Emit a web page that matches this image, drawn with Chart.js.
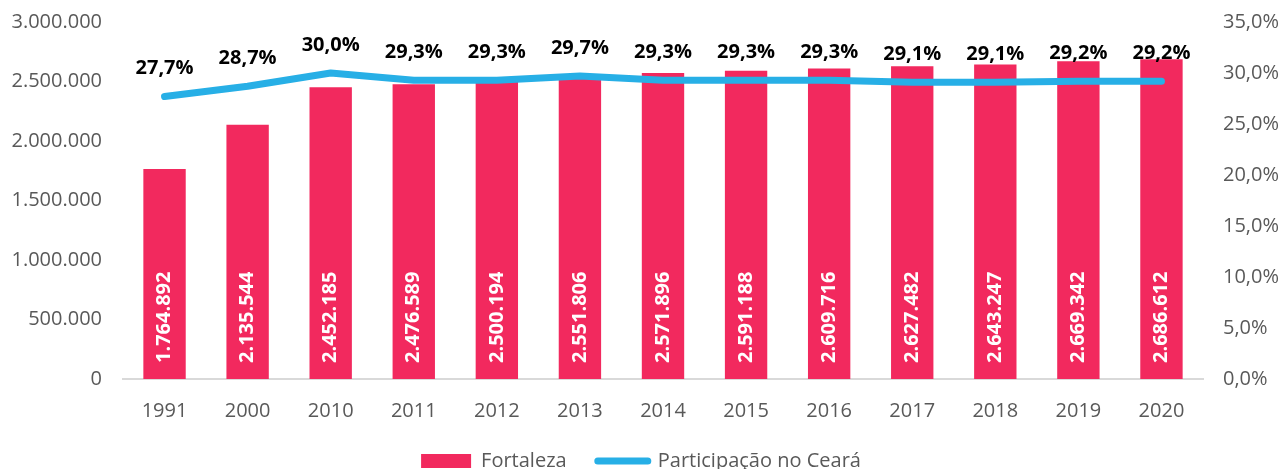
<!DOCTYPE html>
<html>
<head>
<meta charset="utf-8">
<script src="https://cdn.jsdelivr.net/npm/chart.js@4.4.1/dist/chart.umd.min.js"></script>
<style>
  html, body { margin: 0; padding: 0; background: #fff; }
  #wrap { width: 1282px; height: 469px; }
</style>
</head>
<body>
<div id="wrap"><canvas id="myChart"></canvas></div>
<script>
const anos = ["1991", "2000", "2010", "2011", "2012", "2013", "2014", "2015", "2016", "2017", "2018", "2019", "2020"];
const populacao = [1764892, 2135544, 2452185, 2476589, 2500194, 2551806, 2571896, 2591188, 2609716, 2627482, 2643247, 2669342, 2686612];
const participacao = [27.7, 28.7, 30.0, 29.3, 29.3, 29.7, 29.3, 29.3, 29.3, 29.1, 29.1, 29.2, 29.2];

const fonte = "'Open Sans', sans-serif";
const cinza = "#595959";

// número com ponto de milhar
function milhar(v) {
  return String(Math.round(v)).replace(/\B(?=(\d{3})+(?!\d))/g, ".");
}
function pct(v) {
  return v.toFixed(1).replace(".", ",") + "%";
}

// rótulos de dados (barras na vertical, percentuais acima da linha)
const rotulos = {
  id: "rotulos",
  afterDatasetsDraw(chart) {
    const ctx = chart.ctx;
    const pontos = chart.getDatasetMeta(0).data;
    const barras = chart.getDatasetMeta(1).data;
    ctx.save();
    ctx.fillStyle = "#ffffff";
    ctx.font = "bold 20px " + fonte;
    ctx.textAlign = "left";
    ctx.textBaseline = "middle";
    barras.forEach((bar, i) => {
      ctx.save();
      ctx.translate(bar.x, bar.base - 16);
      ctx.rotate(-Math.PI / 2);
      ctx.fillText(milhar(populacao[i]), 0, 0);
      ctx.restore();
    });
    ctx.fillStyle = "#000000";
    ctx.font = "bold 20px " + fonte;
    ctx.textAlign = "center";
    pontos.forEach((p, i) => {
      ctx.fillText(pct(participacao[i]), p.x, p.y - 28);
    });
    ctx.restore();
  }
};

// sem o espaço extra que o Chart.js reserva acima do último tick
function ajustaEixoY(scale) {
  scale.width = scale.position === "left" ? 123 : 79;
  scale.paddingTop = 0;
  scale.paddingBottom = 0;
}

const ctx = document.getElementById("myChart");

new Chart(ctx, {
  data: {
    labels: anos,
    datasets: [
      {
        type: "line",
        label: "Participação no Ceará",
        data: participacao,
        yAxisID: "y1",
        borderColor: "#27AFE6",
        borderWidth: 7,
        borderCapStyle: "round",
        borderJoinStyle: "round",
        pointRadius: 0,
        tension: 0,
        order: 1,
      },
      {
        type: "bar",
        label: "Fortaleza",
        data: populacao,
        yAxisID: "y",
        backgroundColor: "#F2295E",
        barPercentage: 0.51,
        categoryPercentage: 1,
        order: 2,
      },
    ],
  },
  options: {
    responsive: true,
    maintainAspectRatio: false,
    animation: false,
    layout: { padding: { top: 22, left: 0, right: 0, bottom: -12 } },
    plugins: {
      tooltip: { enabled: false },
      legend: {
        position: "bottom",
        reverse: true,
        labels: {
          color: cinza,
          font: { family: fonte, size: 20 },
          usePointStyle: true,
          pointStyleWidth: 50,
          boxWidth: 50,
          boxHeight: 14,
          padding: 0,
          generateLabels: function (chart) {
            const itens = Chart.defaults.plugins.legend.labels.generateLabels(chart);
            itens.forEach((item) => {
              if (item.datasetIndex === 1) {
                item.pointStyle = "rect";
                item.lineWidth = 0;
                item.text = item.text + "\u00a0\u00a0\u00a0\u00a0\u00a0\u00a0";
              } else {
                item.pointStyle = "line";
                item.lineWidth = 7;
                item.lineCap = "round";
                item.strokeStyle = "#27AFE6";
              }
            });
            return itens;
          },
        },
      },
    },
    scales: {
      x: {
        grid: { display: false, drawTicks: false },
        border: { display: true, color: "#d9d9d9", width: 2 },
        ticks: { color: cinza, font: { family: fonte, size: 20 }, padding: 20 },
        afterFit: function (scale) {
          scale.height = 72;
        },
      },
      y: {
        position: "left",
        min: 0,
        max: 3000000,
        grid: { display: false, drawTicks: false },
        border: { display: false },
        ticks: {
          stepSize: 500000,
          color: cinza,
          font: { family: fonte, size: 20 },
          padding: 21,
          callback: function (value) {
            return milhar(value);
          },
        },
        afterFit: ajustaEixoY,
      },
      y1: {
        position: "right",
        min: 0,
        max: 35,
        grid: { display: false, drawTicks: false },
        border: { display: false },
        ticks: {
          stepSize: 5,
          color: cinza,
          font: { family: fonte, size: 20 },
          padding: 20,
          callback: function (value) {
            return pct(value);
          },
        },
        afterFit: ajustaEixoY,
      },
    },
  },
  plugins: [rotulos],
});
</script>
</body>
</html>
